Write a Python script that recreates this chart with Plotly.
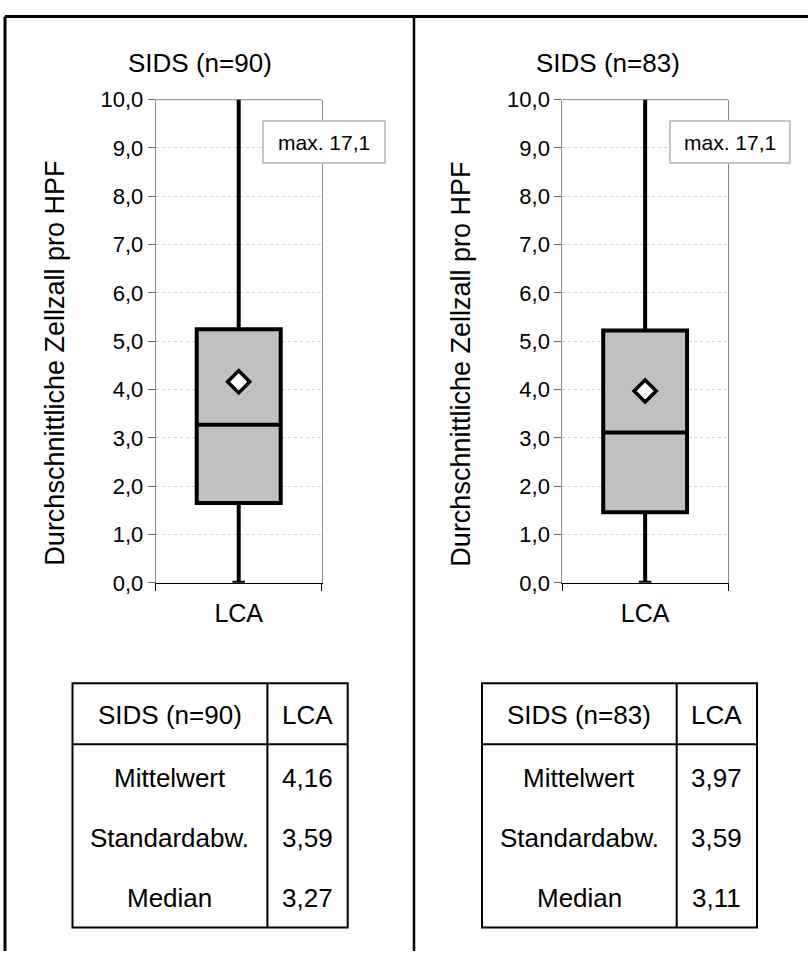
import plotly.graph_objects as go

# --- data -----------------------------------------------------------------
groups = ["SIDS (n=90)", "SIDS (n=83)"]
category = "LCA"
q1 = [1.65, 1.46]
q3 = [5.25, 5.22]
median = [3.27, 3.11]
mean = [4.16, 3.97]
std_dev = [3.59, 3.59]
minimum = [0.0, 0.0]
maximum = [17.1, 17.1]
y_ticks = [0, 1, 2, 3, 4, 5, 6, 7, 8, 9, 10]
stat_labels = ["Mittelwert", "Standardabw.", "Median"]
y_title = "Durchschnittliche Zellzall pro HPF"

# --- page geometry (pixels) -------------------------------------------------
W, H = 808, 964
FONT = "Liberation Sans, Arial, sans-serif"
PLOT_TOP, PLOT_BOTTOM = 90, 586

panels = [
    dict(px0=155.7, px1=321.7, title_x=200, ytitle_x=55, note=(263, 385),
         table=(72.5, 267.4, 347.7)),
    dict(px0=562.3, px1=728.0, title_x=608, ytitle_x=461, note=(670, 790),
         table=(482.0, 676.7, 757.0)),
]


def px(x):
    return x / W


def py(y):
    return 1 - y / H


def de(v, digits):
    return f"{v:.{digits}f}".replace(".", ",")


fig = go.Figure()
shapes = []
annotations = []

for i, p in enumerate(panels):
    suffix = "" if i == 0 else str(i + 1)
    xa, ya = "x" + suffix, "y" + suffix

    fig.add_trace(go.Box(
        x=[category], q1=[q1[i]], median=[median[i]], q3=[q3[i]],
        lowerfence=[minimum[i]], upperfence=[maximum[i]],
        fillcolor="#c0c0c0", line=dict(color="black", width=4),
        width=0.506, whiskerwidth=0.15, boxpoints=False,
        hoverinfo="skip", xaxis=xa, yaxis=ya, showlegend=False,
    ))
    fig.add_trace(go.Scatter(
        x=[category], y=[mean[i]], mode="markers",
        marker=dict(symbol="diamond", size=17, color="white",
                    line=dict(color="black", width=3.5)),
        hoverinfo="skip", xaxis=xa, yaxis=ya, showlegend=False,
    ))

    axis_key = "" if i == 0 else str(i + 1)
    fig.layout["xaxis" + axis_key] = dict(
        domain=[px(p["px0"]), px(p["px1"])], anchor=ya,
        type="category", range=[-0.5, 0.5],
        showline=True, linecolor="black", linewidth=1,
        ticks="outside", tickson="boundaries", ticklen=7,
        tickcolor="black", tickwidth=1, ticklabelstandoff=8,
        tickfont=dict(family=FONT, size=25, color="black"),
        showgrid=False, zeroline=False, fixedrange=True,
    )
    fig.layout["yaxis" + axis_key] = dict(
        domain=[py(PLOT_BOTTOM), py(PLOT_TOP)], anchor=xa,
        range=[0, 10], tickvals=y_ticks, tickformat=".1f",
        showline=True, linecolor="#8a8a8a", linewidth=1, mirror=True,
        ticks="outside", ticklen=7, tickcolor="#6a6a6a", tickwidth=1,
        tickfont=dict(family=FONT, size=22, color="black"),
        showgrid=True, gridcolor="#d4d4d4", griddash="dot", gridwidth=1,
        zeroline=False, fixedrange=True,
    )

    # gray top edge of the plot area
    shapes.append(dict(type="line", xref=xa + " domain", yref=ya + " domain",
                       x0=0, x1=1, y0=1, y1=1,
                       line=dict(color="#8a8a8a", width=1), layer="below"))

    # chart title and vertical axis title
    annotations.append(dict(text=groups[i], x=px(p["title_x"]), y=py(52),
                            xref="paper", yref="paper", showarrow=False,
                            xanchor="center", yanchor="middle",
                            font=dict(family=FONT, size=26, color="black")))
    annotations.append(dict(text=y_title, x=px(p["ytitle_x"]), y=py(361),
                            xref="paper", yref="paper", showarrow=False,
                            textangle=-90, xanchor="center", yanchor="middle",
                            font=dict(family=FONT, size=27, color="black")))

    # note box with the maximum that lies beyond the axis range
    nx0, nx1 = p["note"]
    shapes.append(dict(type="rect", xref="paper", yref="paper",
                       x0=px(nx0), x1=px(nx1), y0=py(155), y1=py(112),
                       line=dict(color="#b4b4b4", width=1.5),
                       fillcolor="white", layer="above"))
    annotations.append(dict(text="max. " + de(maximum[i], 1),
                            x=px((nx0 + nx1) / 2), y=py(134),
                            xref="paper", yref="paper", showarrow=False,
                            xanchor="center", yanchor="middle",
                            font=dict(family=FONT, size=21, color="black")))

    # summary table below the chart
    tx0, tdiv, tx1 = p["table"]
    ty0, thead, ty1 = 689, 751.7, 940
    tline = dict(color="black", width=2)
    shapes.append(dict(type="rect", xref="paper", yref="paper",
                       x0=px(tx0), x1=px(tx1), y0=py(ty1), y1=py(ty0),
                       line=tline))
    shapes.append(dict(type="line", xref="paper", yref="paper",
                       x0=px(tdiv), x1=px(tdiv), y0=py(ty1), y1=py(ty0),
                       line=tline))
    shapes.append(dict(type="line", xref="paper", yref="paper",
                       x0=px(tx0), x1=px(tx1), y0=py(thead), y1=py(thead),
                       line=tline))

    col1 = px((tx0 + tdiv) / 2)
    col2 = px((tdiv + tx1) / 2)
    rows = [(groups[i], category, 721.7),
            (stat_labels[0], de(mean[i], 2), 786),
            (stat_labels[1], de(std_dev[i], 2), 847.7),
            (stat_labels[2], de(median[i], 2), 909.3)]
    for label, value, yy in rows:
        for txt, xx in ((label, col1), (value, col2)):
            annotations.append(dict(text=txt, x=xx, y=py(yy),
                                    xref="paper", yref="paper",
                                    showarrow=False, xanchor="center",
                                    yanchor="middle",
                                    font=dict(family=FONT, size=26,
                                              color="black")))

# outer frame lines of the page
frame = dict(color="black", width=3)
shapes.append(dict(type="line", xref="paper", yref="paper",
                   x0=px(5), x1=px(808), y0=py(4.5), y1=py(4.5), line=frame))
shapes.append(dict(type="line", xref="paper", yref="paper",
                   x0=px(5), x1=px(5), y0=py(964), y1=py(4.5), line=frame))
shapes.append(dict(type="line", xref="paper", yref="paper",
                   x0=px(414), x1=px(414), y0=py(964), y1=py(4.5),
                   line=dict(color="black", width=2.5)))

fig.update_layout(
    width=W, height=H,
    margin=dict(l=0, r=0, t=0, b=0),
    paper_bgcolor="white", plot_bgcolor="white",
    separators=",.",
    showlegend=False,
    shapes=shapes,
    annotations=annotations,
    font=dict(family=FONT, color="black"),
)

# the figure fills the page exactly, so drop the default body margin
fig.write_html("out.html",
               post_script="document.body.style.margin = '0';")
